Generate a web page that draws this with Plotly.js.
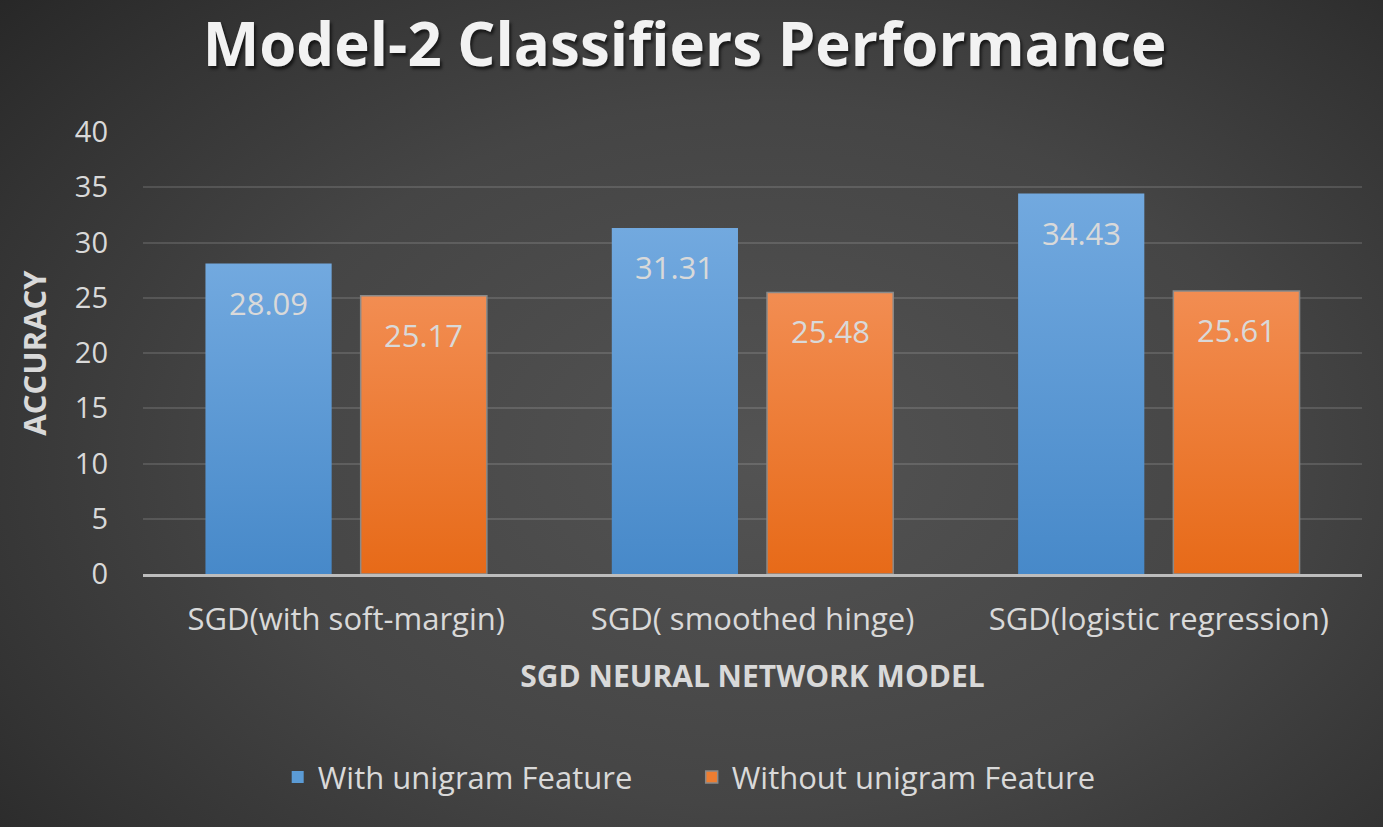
<!DOCTYPE html>
<html>
<head>
<meta charset="utf-8">
<script src="https://cdn.plot.ly/plotly-3.0.1.min.js"></script>
<style>
html,body{margin:0;padding:0;}
body{width:1383px;height:827px;background:radial-gradient(ellipse 75% 85% at 55% 55%, #535353 0%, #454545 50%, #333333 80%, #262626 100%);}
#chart{width:1383px;height:827px;}
</style>
</head>
<body>
<div id="chart"></div>
<script>
const categories = ["SGD(with soft-margin)", "SGD( smoothed hinge)", "SGD(logistic regression)"];
const withUnigram = [28.09, 31.31, 34.43];
const withoutUnigram = [25.17, 25.48, 25.61];
const seriesNames = ["With unigram Feature", "Without unigram Feature"];
const yTicks = [0, 5, 10, 15, 20, 25, 30, 35, 40];

const FONT = "'Open Sans', sans-serif";
const TXT = "#d9d9d9";
const GRADS = [["gradBlue", "#72a9df", "#4789c9"], ["gradOrange", "#f28d52", "#e76a18"]];

const margin = {l:143, r:21, t:132, b:253};
const plotW = 1383 - margin.l - margin.r;
const bargap = 0.236, bargroupgap = 0.187;
const catW = plotW / categories.length;
const slot = catW * (1 - bargap) / 2;
const shift = slot / 2;

const traces = [
  {type:'bar', name:seriesNames[0], x:categories, y:withUnigram,
   marker:{color:'#5b9bd5', line:{width:0}}, hoverinfo:'none'},
  {type:'bar', name:seriesNames[1], x:categories, y:withoutUnigram,
   marker:{color:'#ed7d31', line:{color:'#8a8a8a', width:1.5}}, hoverinfo:'none'}
];

const annotations = [];
[withUnigram, withoutUnigram].forEach((arr, si) => {
  arr.forEach((v, i) => {
    annotations.push({x:categories[i], y:v, xref:'x', yref:'y', text:v.toFixed(2),
      showarrow:false, xshift:(si===0?-shift:shift), yshift:-39, yanchor:'middle',
      font:{family:FONT, size:31, color:TXT}});
  });
});

const layout = {
  width:1383, height:827,
  paper_bgcolor:'rgba(0,0,0,0)', plot_bgcolor:'rgba(0,0,0,0)',
  margin:margin,
  barmode:'group', bargap:bargap, bargroupgap:bargroupgap,
  title:{text:'<b>Model-2 Classifiers Performance</b>', x:0.495, xanchor:'center', y:0.945, yanchor:'middle',
         font:{family:FONT, size:60, color:'#f2f2f2', shadow:'2px 3px 3px rgba(0,0,0,0.6)'}},
  xaxis:{showgrid:false, showline:true, linecolor:'#bdbdbd', linewidth:3, ticks:'',
         tickfont:{family:FONT, size:31, color:TXT}, ticklabelstandoff:16,
         title:{text:'<b>SGD NEURAL NETWORK MODEL</b>', font:{family:FONT, size:30, color:TXT}, standoff:28}},
  yaxis:{range:[0,40], tickvals:yTicks, ticktext:yTicks.map(String), showgrid:true,
         gridcolor:'rgba(255,255,255,0.13)', gridwidth:2, zeroline:false, showline:false, ticks:'',
         tickfont:{family:FONT, size:29, color:TXT}, ticklabelstandoff:34,
         title:{text:'<b>ACCURACY</b>', font:{family:FONT, size:31, color:TXT}, standoff:18}},
  legend:{orientation:'h', x:0.1105, xanchor:'left', y:-0.46, yanchor:'middle',
          font:{family:FONT, size:31, color:TXT}, itemwidth:30, traceorder:'normal',
          entrywidth:369, entrywidthmode:'pixels'},
  annotations:annotations,
  showlegend:true
};

Plotly.newPlot('chart', traces, layout, {displayModeBar:false, staticPlot:true}).then(gd => {
  const svg = gd.querySelector('svg.main-svg');
  const NS = 'http://www.w3.org/2000/svg';
  let defs = svg.querySelector('defs');
  if (!defs) { defs = document.createElementNS(NS, 'defs'); svg.insertBefore(defs, svg.firstChild); }
  GRADS.forEach(([id, c1, c2]) => {
    const g = document.createElementNS(NS, 'linearGradient');
    g.setAttribute('id', id); g.setAttribute('x1', '0'); g.setAttribute('y1', '0');
    g.setAttribute('x2', '0'); g.setAttribute('y2', '1');
    [[0, c1], [1, c2]].forEach(([o, c]) => {
      const s = document.createElementNS(NS, 'stop');
      s.setAttribute('offset', o); s.setAttribute('stop-color', c); g.appendChild(s);
    });
    defs.appendChild(g);
  });
  gd.querySelectorAll('.barlayer g.trace.bars').forEach((t, i) => {
    t.querySelectorAll('path').forEach(p => { p.style.fill = 'url(#' + GRADS[i][0] + ')'; });
  });
});
</script>
</body>
</html>
